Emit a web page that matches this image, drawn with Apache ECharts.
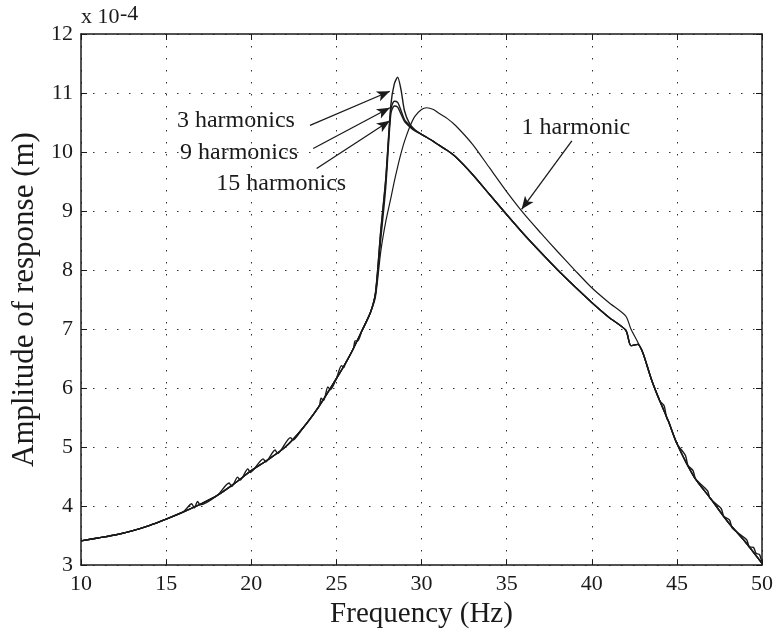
<!DOCTYPE html>
<html><head><meta charset="utf-8">
<script src="https://cdn.jsdelivr.net/npm/echarts@6/dist/echarts.min.js"></script>
<style>html,body{margin:0;padding:0;background:#fff}#c{width:776px;height:634px}</style>
</head><body><div id="c"></div>
<script>
// Frequency grid (Hz) shared by 1, 3 and 9 harmonics curves
const freq = [10,11,12,13,14,15,16,17,18,19,20,21,22,23,24,25,25.5,26,26.5,27,
  27.3,27.6,27.9,28.2,28.4,28.6,28.8,29,29.3,29.6,30,30.3,30.7,31,31.5,32,
  33,34,35,36,37,38,39,40,41,42,42.3,42.7,43,43.5,44,44.5,45,46,47,48,49,50];

// Amplitude (x 1e-4 m)
const amp1 = [3.41,3.46,3.51,3.58,3.67,3.78,3.90,4.03,4.18,4.38,4.60,4.79,5.00,5.31,5.70,6.16,6.40,6.67,6.97,7.28,
  7.55,8.3,8.82,9.22,9.5,9.75,9.98,10.18,10.42,10.6,10.72,10.75,10.72,10.66,10.57,10.45,
  10.13,9.73,9.33,8.96,8.63,8.31,8.0,7.7,7.45,7.22,7.0,6.78,6.6,6.15,5.78,5.44,5.06,4.5,4.12,3.73,3.4,3.03];

const amp3 = [3.41,3.46,3.51,3.58,3.67,3.78,3.90,4.03,4.18,4.38,4.60,4.79,5.00,5.31,5.70,6.16,6.40,6.67,6.97,7.28,
  7.62,8.65,9.55,10.8,11.15,11.27,11.05,10.7,10.48,10.38,10.3,10.25,10.18,10.12,10.03,9.92,
  9.62,9.28,8.94,8.61,8.3,8.0,7.72,7.45,7.2,6.98,6.72,6.74,6.6,6.15,5.78,5.44,5.06,4.5,4.12,3.73,3.4,3.03];

const amp9 = [3.41,3.46,3.51,3.58,3.67,3.78,3.90,4.03,4.18,4.38,4.60,4.79,5.00,5.31,5.70,6.16,6.40,6.67,6.97,7.28,
  7.62,8.62,9.52,10.72,10.86,10.84,10.7,10.55,10.45,10.37,10.3,10.25,10.18,10.12,10.03,9.92,
  9.62,9.28,8.94,8.61,8.3,8.0,7.72,7.45,7.2,6.98,6.72,6.74,6.6,6.15,5.78,5.44,5.06,4.5,4.12,3.73,3.4,3.03];

// 15 harmonics curve (with its small numerical ripples)
const freq15 = [10,11,12,13,14,15,16,16.5,16.65,16.85,17,18,18.7,18.85,19.2,19.35,19.8,19.95,20.7,20.85,21.4,21.55,
  22.3,22.45,23,24,24.1,24.25,24.5,24.65,25,25.3,25.45,25.5,26,26.1,26.25,26.5,27,
  27.3,27.6,27.9,28.2,28.4,28.6,28.8,29,29.3,29.6,30,30.3,30.7,31,31.5,32,
  33,34,35,36,37,38,39,40,41,42,42.3,42.7,43,43.5,44,44.25,44.4,44.5,45,45.5,45.65,45.95,46.1,
  46.8,46.95,47.6,47.75,48.1,48.25,49.1,49.25,49.5,49.65,49.85,50];
const amp15 = [3.41,3.46,3.51,3.58,3.67,3.78,3.90,4.04,3.97,4.08,4.02,4.18,4.39,4.33,4.49,4.44,4.63,4.57,4.80,4.75,4.95,4.89,
  5.16,5.12,5.31,5.70,5.83,5.79,6.02,5.97,6.16,6.38,6.35,6.40,6.67,6.80,6.80,6.97,7.28,
  7.6,8.5,9.4,10.65,10.78,10.76,10.64,10.52,10.43,10.36,10.3,10.25,10.18,10.12,10.03,9.92,
  9.62,9.28,8.94,8.61,8.3,8.0,7.72,7.45,7.2,6.98,6.72,6.74,6.6,6.15,5.78,5.70,5.49,5.44,5.06,4.86,4.69,4.6,4.46,
  4.26,4.13,3.96,3.83,3.76,3.63,3.43,3.31,3.30,3.2,3.18,3.03];

// Annotation labels [text, freq, amp] and arrows [fromFreq, fromAmp, toFreq, toAmp]
const labels = [['3 harmonics',19.1,10.53],['9 harmonics',19.28,9.98],['15 harmonics',21.76,9.46],['1 harmonic',39.07,10.41]];
const arrows = [[23.45,10.45,28.14,11.03],[23.64,10.06,28.14,10.75],[23.84,9.72,28.14,10.53],[38.83,10.19,35.88,9.03]];

const FONT = 'Liberation Serif';
const INK = '#1a1a1a';
const chart = echarts.init(document.getElementById('c'), null, {renderer:'canvas'});

function mkSeries(name, xs, ys) {
  return {
    name, type:'line', data: xs.map((f,i)=>[f, ys[i]]),
    showSymbol:false, smooth:0.25,
    lineStyle:{color:INK, width: name==='1 harmonic'?1.2:1.4},
    silent:true, z:3
  };
}
const series = [
  mkSeries('1 harmonic', freq, amp1),
  mkSeries('3 harmonics', freq, amp3),
  mkSeries('9 harmonics', freq, amp9),
  mkSeries('15 harmonics', freq15, amp15)
];
series.push({
  type:'line', data:[], silent:true,
  markPoint:{
    symbol:'circle', symbolSize:1, itemStyle:{color:'rgba(0,0,0,0)'}, animation:false,
    label:{show:true, position:'inside', color:INK, fontFamily:FONT, fontSize:24, formatter:p=>p.name},
    data: labels.map(l=>({name:l[0], coord:[l[1], l[2]]}))
  },
  markLine:{
    silent:true, animation:false,
    label:{show:false}, itemStyle:{color:INK},
    lineStyle:{color:INK, width:1.3, type:'solid'},
    data: arrows.map(a=>[
      {coord:[a[0],a[1]], symbol:'none'},
      {coord:[a[2],a[3]], symbol:'arrow', symbolSize:[8,13]}
    ])
  }
});

const axisLabelStyle = {fontFamily:FONT, fontSize:22, color:INK};
const split = {show:true, lineStyle:{color:'#333', width:1, type:[1.5,10.5]}};
chart.setOption({
  animation:false,
  backgroundColor:'#fff',
  grid:{left:81, right:14, top:34, bottom:62, containLabel:false},
  xAxis:[{
    type:'value', min:10, max:50, interval:5, position:'bottom',
    name:'Frequency (Hz)', nameLocation:'middle', nameGap:30,
    nameTextStyle:{fontFamily:FONT, fontSize:29, color:INK},
    axisLine:{show:true, onZero:false, lineStyle:{color:INK, width:1.5}},
    axisTick:{show:true, inside:true, length:6, lineStyle:{color:INK}},
    axisLabel:Object.assign({margin:8}, axisLabelStyle),
    splitLine:split
  },{
    type:'value', min:10, max:50, interval:5, position:'top',
    axisLine:{show:true, onZero:false, lineStyle:{color:INK, width:1.5}},
    axisTick:{show:true, inside:true, length:6, lineStyle:{color:INK}},
    axisLabel:{show:false}, splitLine:{show:false}
  }],
  yAxis:[{
    type:'value', min:3, max:12, interval:1, position:'left',
    name:'Amplitude of response (m)', nameLocation:'middle', nameGap:33,
    nameTextStyle:{fontFamily:FONT, fontSize:31, color:INK},
    axisLine:{show:true, onZero:false, lineStyle:{color:INK, width:1.5}},
    axisTick:{show:true, inside:true, length:6, lineStyle:{color:INK}},
    axisLabel:Object.assign({margin:8}, axisLabelStyle),
    splitLine:split
  },{
    type:'value', min:3, max:12, interval:1, position:'right',
    axisLine:{show:true, onZero:false, lineStyle:{color:INK, width:1.5}},
    axisTick:{show:true, inside:true, length:6, lineStyle:{color:INK}},
    axisLabel:{show:false}, splitLine:{show:false}
  }],
  graphic:[
    {type:'text', left:81, top:6, style:{text:'x 10', fontFamily:FONT, fontSize:22, fill:INK}},
    {type:'text', left:120, top:3, style:{text:'-4', fontFamily:FONT, fontSize:22, fill:INK}}
  ],
  series
});
</script></body></html>
